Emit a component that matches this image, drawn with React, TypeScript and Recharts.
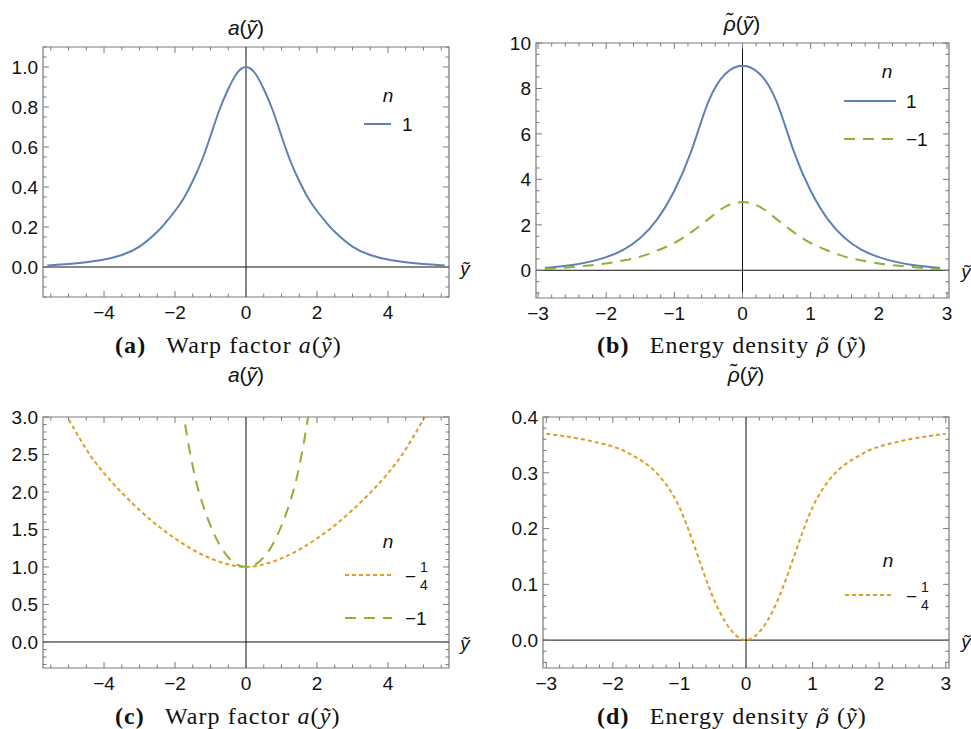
import React from 'react';
import { LineChart, Line, XAxis, YAxis, ReferenceLine, ReferenceArea } from 'recharts';

const BLUE = '#5e81b5';
const ORANGE = '#e19c24';
const GREEN = '#8fb032';
const FRAME = '#7a7a7a';
const SANS = '"Liberation Sans", Arial, sans-serif';
const SERIF = '"Liberation Serif", "Times New Roman", serif';

// (a) warp factor, n = 1
const xA = [-5.6, -5, -4.5, -4, -3.5, -3, -2.5, -2.25, -2, -1.75, -1.5, -1.25, -1, -0.75, -0.5, -0.25, 0,
  0.25, 0.5, 0.75, 1, 1.25, 1.5, 1.75, 2, 2.25, 2.5, 3, 3.5, 4, 4.5, 5, 5.6];
const aN1 = [0.008, 0.015, 0.024, 0.037, 0.06, 0.102, 0.176, 0.225, 0.28, 0.345, 0.43, 0.53, 0.655, 0.785, 0.89, 0.97, 1,
  0.97, 0.89, 0.785, 0.655, 0.53, 0.43, 0.345, 0.28, 0.225, 0.176, 0.102, 0.06, 0.037, 0.024, 0.015, 0.008];

// (b) energy density, n = 1 and n = -1
const xB = [-2.9, -2.75, -2.5, -2.25, -2, -1.75, -1.5, -1.25, -1, -0.75, -0.5, -0.25, 0,
  0.25, 0.5, 0.75, 1, 1.25, 1.5, 1.75, 2, 2.25, 2.5, 2.75, 2.9];
const rhoN1 = [0.1, 0.14, 0.23, 0.37, 0.58, 0.9, 1.42, 2.25, 3.5, 5.25, 7.42, 8.65, 9,
  8.65, 7.42, 5.25, 3.5, 2.25, 1.42, 0.9, 0.58, 0.37, 0.23, 0.14, 0.1];
const rhoNm1 = [0.06, 0.08, 0.14, 0.21, 0.3, 0.43, 0.6, 0.87, 1.2, 1.68, 2.25, 2.8, 3,
  2.8, 2.25, 1.68, 1.2, 0.87, 0.6, 0.43, 0.3, 0.21, 0.14, 0.08, 0.06];

// (c) warp factor, n = -1/4 and n = -1
const xC1 = [-5.3, -5, -4.5, -4, -3.5, -3, -2.5, -2, -1.5, -1, -0.5, 0,
  0.5, 1, 1.5, 2, 2.5, 3, 3.5, 4, 4.5, 5, 5.3];
const aNq = [3.2, 2.97, 2.57, 2.25, 1.99, 1.76, 1.555, 1.38, 1.23, 1.115, 1.035, 1,
  1.035, 1.115, 1.23, 1.38, 1.555, 1.76, 1.99, 2.25, 2.57, 2.97, 3.2];
const xC2 = [-1.85, -1.75, -1.5, -1.25, -1, -0.75, -0.5, -0.25, 0,
  0.25, 0.5, 0.75, 1, 1.25, 1.5, 1.75, 1.85];
const aNm1 = [3.4, 3.0, 2.34, 1.88, 1.55, 1.3, 1.13, 1.03, 1,
  1.03, 1.13, 1.3, 1.55, 1.88, 2.34, 3.0, 3.4];

// (d) energy density, n = -1/4
const xD = [-3, -2.5, -2, -1.75, -1.5, -1.25, -1, -0.75, -0.5, -0.25, 0,
  0.25, 0.5, 0.75, 1, 1.25, 1.5, 1.75, 2, 2.5, 3];
const rhoNq = [0.37, 0.361, 0.347, 0.334, 0.316, 0.287, 0.238, 0.16, 0.078, 0.022, 0,
  0.022, 0.078, 0.16, 0.238, 0.287, 0.316, 0.334, 0.347, 0.361, 0.37];

// tick labels
const xTicksWide = [-4, -2, 0, 2, 4];
const xTicksNarrow = [-3, -2, -1, 0, 1, 2, 3];
const yTicksA = [0, 0.2, 0.4, 0.6, 0.8, 1.0];
const yTicksB = [0, 2, 4, 6, 8, 10];
const yTicksC = [0, 0.5, 1.0, 1.5, 2.0, 2.5, 3.0];
const yTicksD = [0, 0.1, 0.2, 0.3, 0.4];

const Y_AXIS_W = 40;
const X_AXIS_H = 30;

const toPts = (xs: number[], ys: number[]) => xs.map((x, i) => ({ x, y: ys[i] }));

const withMinors = (dom: [number, number], step: number) => {
  const out: number[] = [];
  for (let k = Math.ceil(dom[0] / step - 1e-9); k * step <= dom[1] + 1e-9; k++) {
    out.push(Math.round(k * step * 1000) / 1000);
  }
  return out;
};

const fmtNum = (v: number, digits: number) => v.toFixed(digits).replace('-', '\u2212');
const isMajor = (majors: number[], v: number) => majors.some((m) => Math.abs(m - v) < 1e-6);

const XTick = (props: any) => {
  const { x, y, payload, majors, top } = props;
  const major = isMajor(majors, payload.value);
  const len = major ? 6 : 3.5;
  return (
    <g>
      <line x1={x} y1={y} x2={x} y2={y - len} stroke={FRAME} />
      <line x1={x} y1={top} x2={x} y2={top + len} stroke={FRAME} />
      {major && (
        <text x={x} y={y + 22} textAnchor="middle" fontSize={19} fontFamily={SANS} fill="#111">
          {fmtNum(payload.value, 0)}
        </text>
      )}
    </g>
  );
};

const YTick = (props: any) => {
  const { x, y, payload, majors, right, digits } = props;
  const major = isMajor(majors, payload.value);
  const len = major ? 6 : 3.5;
  return (
    <g>
      <line x1={x} y1={y} x2={x + len} y2={y} stroke={FRAME} />
      <line x1={right} y1={y} x2={right - len} y2={y} stroke={FRAME} />
      {major && (
        <text x={x - 5} y={y} dy="0.36em" textAnchor="end" fontSize={19} fontFamily={SANS} fill="#111">
          {fmtNum(payload.value, digits)}
        </text>
      )}
    </g>
  );
};

type Series = { key: string; xs: number[]; ys: number[]; color: string; dash?: string };
type PanelDef = {
  left: number; top: number; width: number; height: number;
  L: number; R: number; T: number; B: number;
  xDomain: [number, number]; yDomain: [number, number];
  xMajor: number[]; xMinor: number; yMajor: number[]; yMinor: number; yDigits: number;
  series: Series[];
};

const DASH = '11 8';
const DOT = '4 3';

const panels: PanelDef[] = [
  {
    left: 0, top: 0, width: 490, height: 360, L: 43, R: 449, T: 47, B: 297,
    xDomain: [-5.72, 5.72], yDomain: [-0.15, 1.1],
    xMajor: xTicksWide, xMinor: 0.5, yMajor: yTicksA, yMinor: 0.05, yDigits: 1,
    series: [{ key: 'a1', xs: xA, ys: aN1, color: BLUE }],
  },
  {
    left: 490, top: 0, width: 481, height: 360, L: 536, R: 949, T: 43, B: 298,
    xDomain: [-3.03, 3.03], yDomain: [-1.22, 10],
    xMajor: xTicksNarrow, xMinor: 0.2, yMajor: yTicksB, yMinor: 0.5, yDigits: 0,
    series: [
      { key: 'b1', xs: xB, ys: rhoN1, color: BLUE },
      { key: 'b2', xs: xB, ys: rhoNm1, color: GREEN, dash: DASH },
    ],
  },
  {
    left: 0, top: 360, width: 490, height: 369, L: 43, R: 449, T: 417, B: 668,
    xDomain: [-5.72, 5.72], yDomain: [-0.347, 3],
    xMajor: xTicksWide, xMinor: 0.5, yMajor: yTicksC, yMinor: 0.1, yDigits: 1,
    series: [
      { key: 'c1', xs: xC1, ys: aNq, color: ORANGE, dash: DOT },
      { key: 'c2', xs: xC2, ys: aNm1, color: GREEN, dash: DASH },
    ],
  },
  {
    left: 490, top: 360, width: 481, height: 369, L: 543, R: 949, T: 417, B: 668,
    xDomain: [-3.05, 3.05], yDomain: [-0.05, 0.4],
    xMajor: xTicksNarrow, xMinor: 0.2, yMajor: yTicksD, yMinor: 0.02, yDigits: 1,
    series: [{ key: 'd1', xs: xD, ys: rhoNq, color: ORANGE, dash: DOT }],
  },
];

const Panel = ({ p }: { p: PanelDef }) => {
  const margin = {
    left: p.L - p.left - Y_AXIS_W,
    top: p.T - p.top,
    right: p.left + p.width - p.R,
    bottom: p.top + p.height - p.B - X_AXIS_H,
  };
  const topLocal = p.T - p.top;
  const rightLocal = p.R - p.left;
  return (
    <div style={{ position: 'absolute', left: p.left, top: p.top }}>
      <LineChart width={p.width} height={p.height} margin={margin}>
        <XAxis
          type="number"
          dataKey="x"
          domain={p.xDomain}
          allowDataOverflow
          ticks={withMinors(p.xDomain, p.xMinor)}
          interval={0}
          height={X_AXIS_H}
          tickSize={0}
          tickMargin={0}
          axisLine={false}
          tickLine={false}
          tick={(tp: any) => <XTick {...tp} majors={p.xMajor} top={topLocal} />}
        />
        <YAxis
          type="number"
          dataKey="y"
          domain={p.yDomain}
          allowDataOverflow
          ticks={withMinors(p.yDomain, p.yMinor)}
          interval={0}
          width={Y_AXIS_W}
          tickSize={0}
          tickMargin={0}
          axisLine={false}
          tickLine={false}
          tick={(tp: any) => <YTick {...tp} majors={p.yMajor} right={rightLocal} digits={p.yDigits} />}
        />
        <ReferenceArea
          x1={p.xDomain[0]} x2={p.xDomain[1]} y1={p.yDomain[0]} y2={p.yDomain[1]}
          fill="none" fillOpacity={0} stroke={FRAME} strokeWidth={1.2}
        />
        <ReferenceLine x={0} stroke="#111" strokeWidth={1} />
        <ReferenceLine y={0} stroke="#111" strokeWidth={1} />
        {p.series.map((s) => (
          <Line
            key={s.key}
            data={toPts(s.xs, s.ys)}
            dataKey="y"
            type="natural"
            stroke={s.color}
            strokeWidth={2}
            strokeDasharray={s.dash}
            dot={false}
            activeDot={false}
            isAnimationActive={false}
          />
        ))}
      </LineChart>
    </div>
  );
};

const At = ({ x, y, children, style }: { x: number; y: number; children: React.ReactNode; style?: React.CSSProperties }) => (
  <div style={{ position: 'absolute', left: x, top: y, transform: 'translate(-50%, -50%)', whiteSpace: 'nowrap', lineHeight: 1, ...style }}>
    {children}
  </div>
);

const LeftAt = ({ x, y, children, style }: { x: number; y: number; children: React.ReactNode; style?: React.CSSProperties }) => (
  <div style={{ position: 'absolute', left: x, top: y, transform: 'translateY(-50%)', whiteSpace: 'nowrap', lineHeight: 1, ...style }}>
    {children}
  </div>
);

const Sample = ({ x1, x2, y, color, dash }: { x1: number; x2: number; y: number; color: string; dash?: string }) => (
  <svg style={{ position: 'absolute', left: x1, top: y - 3 }} width={x2 - x1} height={6}>
    <line x1={0} y1={3} x2={x2 - x1} y2={3} stroke={color} strokeWidth={2} strokeDasharray={dash} />
  </svg>
);

const Quarter = () => (
  <span style={{ display: 'inline-flex', alignItems: 'center' }}>
    <span>{'\u2212'}</span>
    <span style={{ display: 'inline-flex', flexDirection: 'column', alignItems: 'center', fontSize: 14, lineHeight: '18px', marginLeft: 4 }}>
      <span>1</span>
      <span>4</span>
    </span>
  </span>
);

const yt = <i>{'\u1ef9'}</i>;
const rho = <i>{'\u03c1\u0303'}</i>;
const rhoSerif = <i style={{ fontFamily: '"DejaVu Serif", serif', fontSize: 21 }}>{'\u03c1\u0303'}</i>;

export default function App() {
  const title = { fontFamily: SANS, fontSize: 21, color: '#111' };
  const lab = { fontFamily: SANS, fontSize: 19, color: '#111' };
  const cap = { fontFamily: SERIF, fontSize: 24, letterSpacing: 1.1, color: '#111' };
  return (
    <div style={{ position: 'absolute', left: 0, top: 0, width: 971, height: 729, background: '#fff', overflow: 'hidden' }}>
      {panels.map((p, i) => (
        <Panel key={i} p={p} />
      ))}

      {/* plot titles */}
      <At x={246} y={27} style={title}><i>a</i>({yt})</At>
      <At x={742} y={23} style={title}>{rho}({yt})</At>
      <At x={246} y={374} style={title}><i>a</i>({yt})</At>
      <At x={746} y={374} style={title}>{rho}({yt})</At>

      {/* axis labels */}
      <At x={465} y={268} style={lab}>{yt}</At>
      <At x={966} y={271} style={lab}>{yt}</At>
      <At x={465} y={643} style={lab}>{yt}</At>
      <At x={966} y={641} style={lab}>{yt}</At>

      {/* legends */}
      <At x={388} y={95} style={lab}><i>n</i></At>
      <Sample x1={364} x2={391} y={124} color={BLUE} />
      <LeftAt x={402} y={124} style={lab}>1</LeftAt>

      <At x={887} y={71} style={lab}><i>n</i></At>
      <Sample x1={844} x2={896} y={101} color={BLUE} />
      <LeftAt x={906} y={101} style={lab}>1</LeftAt>
      <Sample x1={844} x2={896} y={139} color={GREEN} dash={DASH} />
      <LeftAt x={906} y={139} style={lab}>{'\u22121'}</LeftAt>

      <At x={388} y={541} style={lab}><i>n</i></At>
      <Sample x1={345} x2={392} y={575} color={ORANGE} dash={DOT} />
      <LeftAt x={405} y={576} style={lab}><Quarter /></LeftAt>
      <Sample x1={345} x2={392} y={618} color={GREEN} dash={DASH} />
      <LeftAt x={405} y={618} style={lab}>{'\u22121'}</LeftAt>

      <At x={888} y={560} style={lab}><i>n</i></At>
      <Sample x1={845} x2={892} y={595} color={ORANGE} dash={DOT} />
      <LeftAt x={906} y={596} style={lab}><Quarter /></LeftAt>

      {/* captions */}
      <LeftAt x={115} y={345} style={cap}><b>(a)</b><span style={{ marginLeft: 20 }}>Warp factor <i>a</i>({yt})</span></LeftAt>
      <LeftAt x={597} y={345} style={cap}><b>(b)</b><span style={{ marginLeft: 20 }}>Energy density {rhoSerif} ({yt})</span></LeftAt>
      <LeftAt x={115} y={716} style={cap}><b>(c)</b><span style={{ marginLeft: 20 }}>Warp factor <i>a</i>({yt})</span></LeftAt>
      <LeftAt x={597} y={716} style={cap}><b>(d)</b><span style={{ marginLeft: 20 }}>Energy density {rhoSerif} ({yt})</span></LeftAt>
    </div>
  );
}
